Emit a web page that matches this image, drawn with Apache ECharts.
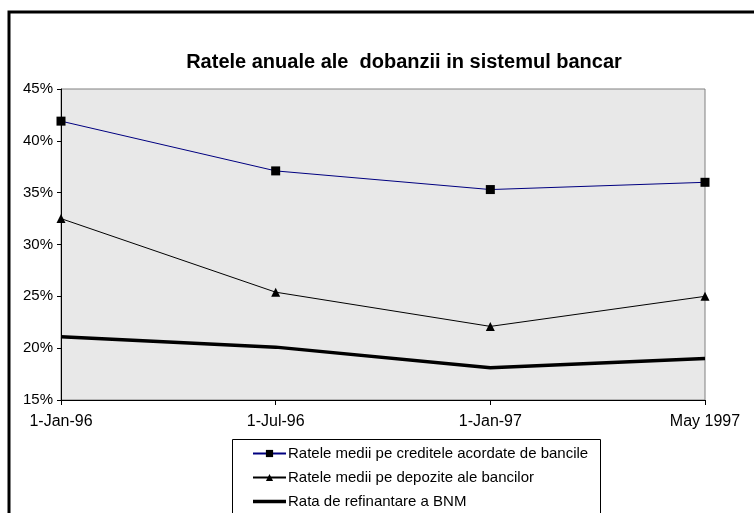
<!DOCTYPE html>
<html>
<head>
<meta charset="utf-8">
<script src="https://cdn.jsdelivr.net/npm/echarts@6/dist/echarts.min.js"></script>
<style>
  html, body { margin: 0; padding: 0; background: #fff; }
  #chart { width: 754px; height: 513px; }
</style>
</head>
<body>
<div id="chart"></div>
<script>
// date categories on the x axis
const categories = ['1-Jan-96', '1-Jul-96', '1-Jan-97', 'May 1997']
// interest rates, %
const crediteValues = [41.9, 37.1, 35.3, 36.0]
const depoziteValues = [32.5, 25.4, 22.1, 25.0]
const refinantareValues = [21.1, 20.1, 18.1, 19.0]
const seriesNames = [
  'Ratele medii pe creditele acordate de bancile',
  'Ratele medii pe depozite ale bancilor',
  'Rata de refinantare a BNM'
]

const chart = echarts.init(document.getElementById('chart'))
const font = 'Arial, "Liberation Sans", sans-serif'

// thick line only, no marker (tiny corner dots keep the bounding box)
const thickLineIcon = 'path://M0,0L0.01,0L0.01,0.01Z M0,2.75L33,2.75L33,6.25L0,6.25Z M33,9L32.99,9L32.99,8.99Z'

const option = {
  animation: false,
  textStyle: { fontFamily: font },
  title: {
    text: 'Ratele anuale ale  dobanzii in sistemul bancar',
    left: 399,
    textAlign: 'center',
    top: 47,
    textStyle: { fontFamily: font, fontSize: 20, fontWeight: 'bold', color: '#000' }
  },
  graphic: [
    {
      type: 'rect',
      shape: { x: 9, y: 12, width: 800, height: 600 },
      style: { fill: 'none', stroke: '#000', lineWidth: 3 }
    },
    {
      type: 'rect',
      shape: { x: 232.5, y: 439.5, width: 368, height: 100 },
      style: { fill: 'none', stroke: '#000', lineWidth: 1 }
    }
  ],
  legend: {
    orient: 'vertical',
    left: 252,
    top: 446,
    itemWidth: 33,
    itemHeight: 9,
    itemGap: 9,
    padding: 0,
    textStyle: { fontFamily: font, fontSize: 15, color: '#000', padding: [0, 0, 0, -3] },
    data: [
      { name: seriesNames[0] },
      { name: seriesNames[1] },
      { name: seriesNames[2], icon: thickLineIcon, itemStyle: { color: '#000' } }
    ]
  },
  grid: {
    left: 61,
    right: 49,
    top: 89,
    bottom: 113,
    show: true,
    backgroundColor: '#e8e8e8',
    borderColor: '#808080',
    borderWidth: 1
  },
  xAxis: {
    type: 'category',
    boundaryGap: false,
    data: categories,
    axisLine: { lineStyle: { color: '#000', width: 1 } },
    axisTick: { show: true, length: 5, lineStyle: { color: '#000' } },
    axisLabel: { fontFamily: font, fontSize: 16, color: '#000', margin: 14 },
    splitLine: { show: false }
  },
  yAxis: {
    type: 'value',
    min: 15,
    max: 45,
    interval: 5,
    axisLine: { show: true, lineStyle: { color: '#000', width: 1 } },
    axisTick: { show: true, length: 4, lineStyle: { color: '#000' } },
    axisLabel: { fontFamily: font, fontSize: 15, color: '#000', margin: 8, formatter: '{value}%' },
    splitLine: { show: false }
  },
  series: [
    {
      name: seriesNames[0],
      type: 'line',
      data: crediteValues,
      symbol: 'rect',
      symbolSize: 9,
      lineStyle: { color: '#000080', width: 1 },
      itemStyle: { color: '#000' }
    },
    {
      name: seriesNames[1],
      type: 'line',
      data: depoziteValues,
      symbol: 'triangle',
      symbolSize: 9,
      lineStyle: { color: '#000', width: 1 },
      itemStyle: { color: '#000' }
    },
    {
      name: seriesNames[2],
      type: 'line',
      data: refinantareValues,
      symbol: 'none',
      lineStyle: { color: '#000', width: 3.5 },
      itemStyle: { color: '#000' }
    }
  ]
}

chart.setOption(option)
</script>
</body>
</html>
